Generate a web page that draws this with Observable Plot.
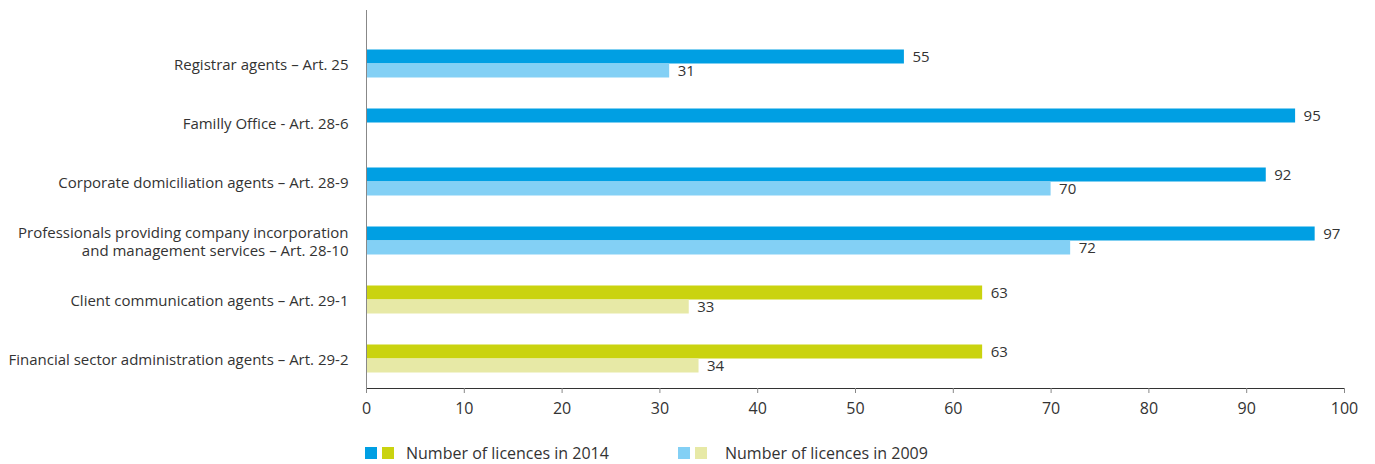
<!DOCTYPE html>
<html>
<head>
<meta charset="utf-8">
<script src="https://cdn.jsdelivr.net/npm/d3@7"></script>
<script src="https://cdn.jsdelivr.net/npm/@observablehq/plot@0.6"></script>
<style>
  html, body { margin: 0; padding: 0; background: #fff; }
  body { width: 1375px; height: 464px; position: relative; font-family: "Open Sans", sans-serif; color: #333; overflow: hidden; }
  #legend { position: absolute; left: 365px; top: 442px; font-size: 16px; display: flex; align-items: center; }
  .sw { width: 12px; height: 12px; display: inline-block; }
  .item { display: flex; align-items: center; }
</style>
</head>
<body>
<div id="chart"></div>
<div id="legend"></div>
<script>
const categories = [
  "Registrar agents – Art. 25",
  "Familly Office - Art. 28-6",
  "Corporate domiciliation agents – Art. 28-9",
  "Professionals providing company incorporation\nand management services – Art. 28-10",
  "Client communication agents – Art. 29-1",
  "Financial sector administration agents – Art. 29-2"
];
const licences2014 = [55, 95, 92, 97, 63, 63];
const licences2009 = [31, null, 70, 72, 33, 34];
const articleGroup = ["Art. 25-28", "Art. 25-28", "Art. 25-28", "Art. 25-28", "Art. 29", "Art. 29"];
const xTicks = [0, 10, 20, 30, 40, 50, 60, 70, 80, 90, 100];
const seriesNames = ["Number of licences in 2014", "Number of licences in 2009"];

const palette = {
  "Art. 25-28": {y2014: "#009fe3", y2009: "#83d0f5"},
  "Art. 29": {y2014: "#cad30f", y2009: "#e7e9a6"}
};

const rows2014 = categories.map((c, i) => ({category: c, value: licences2014[i], group: articleGroup[i]}));
const rows2009 = categories.map((c, i) => ({category: c, value: licences2009[i], group: articleGroup[i]})).filter(d => d.value != null);

const inset = 22.5;
const textColor = "#333";

const chart = Plot.plot({
  width: 1375,
  height: 430,
  marginLeft: 366,
  marginRight: 31,
  marginTop: 10,
  marginBottom: 42,
  style: {fontFamily: "Open Sans", fontSize: "15px", color: textColor, background: "#fff"},
  x: {domain: [0, 100], ticks: xTicks, tickSize: 5, tickPadding: 9, label: null, line: true, tickFormat: d => d},
  y: {domain: categories, range: [34, 388], padding: 0, axis: null},
  marks: [
    Plot.barX(rows2014, {x: "value", y: "category", dy: -7, insetTop: inset, insetBottom: inset, fill: d => palette[d.group].y2014}),
    Plot.barX(rows2009, {x: "value", y: "category", dy: 7, insetTop: inset, insetBottom: inset, fill: d => palette[d.group].y2009}),
    Plot.text(rows2014, {x: "value", y: "category", dy: -7, dx: 8, text: d => String(d.value), textAnchor: "start", fill: textColor, fontSize: 15}),
    Plot.text(rows2009, {x: "value", y: "category", dy: 7, dx: 8, text: d => String(d.value), textAnchor: "start", fill: textColor, fontSize: 15}),
    Plot.text(categories, {y: d => d, text: d => d, frameAnchor: "left", textAnchor: "end", dx: -18, fill: textColor, fontSize: 15, lineHeight: 1.2}),
    Plot.ruleX([0], {stroke: "#888", strokeWidth: 1})
  ]
});
const ax = d3.select(chart).selectAll("g[aria-label^='x-axis']");
ax.attr("font-size", 16);
ax.selectAll("text").attr("font-size", 16);
ax.selectAll("path, line").attr("stroke", "#888");
document.getElementById("chart").appendChild(chart);

const legend = document.getElementById("legend");
const legendItems = [
  {label: seriesNames[0], colors: [palette["Art. 25-28"].y2014, palette["Art. 29"].y2014], width: 313, gap: 12},
  {label: seriesNames[1], colors: [palette["Art. 25-28"].y2009, palette["Art. 29"].y2009], width: 300, gap: 18}
];
legendItems.forEach(it => {
  const div = document.createElement("div");
  div.className = "item";
  div.style.width = it.width + "px";
  it.colors.forEach((c, j) => {
    const s = document.createElement("span");
    s.className = "sw";
    s.style.background = c;
    s.style.marginRight = (j === 0 ? 5 : it.gap) + "px";
    div.appendChild(s);
  });
  const t = document.createElement("span");
  t.textContent = it.label;
  div.appendChild(t);
  legend.appendChild(div);
});
</script>
</body>
</html>
